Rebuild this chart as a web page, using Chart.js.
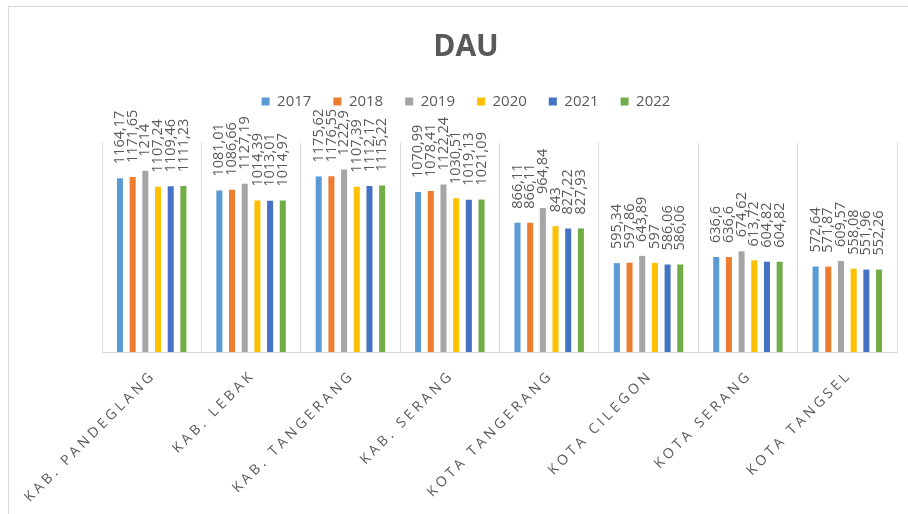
<!DOCTYPE html>
<html>
<head>
<meta charset="utf-8">
<script src="https://cdn.jsdelivr.net/npm/chart.js@4"></script>
<style>
  html, body { margin: 0; padding: 0; background: #fff; overflow: hidden; }
  #wrap { position: relative; width: 932px; height: 514px; }
  #frame { position: absolute; left: 8px; top: 6px; right: -10px; bottom: -10px;
           border-left: 1px solid #d9d9d9; border-top: 1px solid #d9d9d9; pointer-events: none; }
</style>
</head>
<body>
<div id="wrap">
  <canvas id="chart" width="932" height="514"></canvas>
  <div id="frame"></div>
</div>
<script>
const regions = ['KAB. PANDEGLANG', 'KAB. LEBAK', 'KAB. TANGERANG', 'KAB. SERANG',
                 'KOTA TANGERANG', 'KOTA CILEGON', 'KOTA SERANG', 'KOTA TANGSEL'];
const years = ['2017', '2018', '2019', '2020', '2021', '2022'];
const colors = ['#5B9BD5', '#ED7D31', '#A5A5A5', '#FFC000', '#4472C4', '#70AD47'];

const dau2017 = [1164.17, 1081.01, 1175.62, 1070.99, 866.11, 595.34, 636.6, 572.64];
const dau2018 = [1171.65, 1086.66, 1176.55, 1078.41, 866.11, 597.86, 636.6, 571.87];
const dau2019 = [1214, 1127.19, 1222.9, 1122.24, 964.84, 643.89, 674.62, 609.57];
const dau2020 = [1107.24, 1014.39, 1107.39, 1030.51, 843, 597, 613.72, 558.08];
const dau2021 = [1109.46, 1013.01, 1112.17, 1019.13, 827.22, 586.06, 604.82, 551.96];
const dau2022 = [1111.23, 1014.97, 1115.22, 1021.09, 827.93, 586.06, 604.82, 552.26];
const series = [dau2017, dau2018, dau2019, dau2020, dau2021, dau2022];

const textColor = '#595959';
const fmt = v => String(v).replace('.', ',');

// value labels, rotated, above each bar
const barLabels = {
    id: 'barLabels',
    afterDatasetsDraw(chart) {
        const ctx = chart.ctx;
        ctx.save();
        ctx.font = '14.5px "Open Sans"';
        ctx.fillStyle = textColor;
        ctx.textAlign = 'left';
        ctx.textBaseline = 'middle';
        chart.data.datasets.forEach((ds, i) => {
            chart.getDatasetMeta(i).data.forEach((bar, j) => {
                ctx.save();
                ctx.translate(bar.x, bar.y - 14);
                ctx.rotate(-Math.PI / 2);
                ctx.fillText(fmt(ds.data[j]), 0, 0);
                ctx.restore();
            });
        });
        ctx.restore();
    }
};

// category labels at 45 degrees with letter spacing
const catLabels = {
    id: 'catLabels',
    afterDraw(chart) {
        const ctx = chart.ctx;
        const xs = chart.scales.x;
        ctx.save();
        ctx.font = '14px "Open Sans"';
        ctx.letterSpacing = '3.5px';
        ctx.fillStyle = textColor;
        ctx.textAlign = 'right';
        ctx.textBaseline = 'middle';
        regions.forEach((name, i) => {
            ctx.save();
            ctx.translate(xs.getPixelForTick(i) + 2, chart.chartArea.bottom + 21);
            ctx.rotate(-Math.PI / 4);
            ctx.fillText(name, 0, 0);
            ctx.restore();
        });
        ctx.restore();
    }
};

// extra room between legend and plot
const legendGap = {
    id: 'legendGap',
    beforeInit(chart) {
        const fit = chart.legend.fit;
        chart.legend.fit = function () {
            fit.bind(chart.legend)();
            this.height += 24;
        };
    }
};

new Chart(document.getElementById('chart'), {
    type: 'bar',
    data: {
        labels: regions,
        datasets: years.map((y, i) => ({
            label: y,
            data: series[i],
            backgroundColor: colors[i],
            categoryPercentage: 0.766,
            barPercentage: 0.476
        }))
    },
    options: {
        responsive: false,
        animation: false,
        layout: { padding: { left: 35, right: 35, top: 0, bottom: 162 } },
        plugins: {
            title: {
                display: true,
                text: 'DAU',
                color: textColor,
                font: { family: '"Open Sans"', size: 30, weight: 'bold' },
                padding: { top: 29, bottom: 7 }
            },
            legend: {
                position: 'top',
                labels: {
                    color: textColor,
                    font: { family: '"Open Sans"', size: 15 },
                    boxWidth: 8,
                    boxHeight: 8,
                    padding: 22
                }
            },
            tooltip: { enabled: false }
        },
        scales: {
            x: {
                grid: { color: '#d9d9d9', drawTicks: false },
                border: { color: '#d9d9d9' },
                ticks: { display: false }
            },
            y: {
                min: 0,
                max: 1400,
                grid: { display: false },
                border: { display: false },
                ticks: { display: false },
                afterFit(scale) { scale.width = 67; }
            }
        }
    },
    plugins: [barLabels, catLabels, legendGap]
});
</script>
</body>
</html>
